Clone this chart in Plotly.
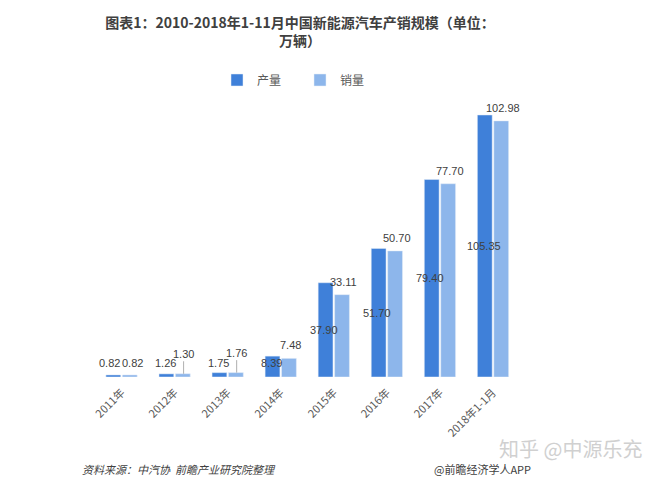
import plotly.graph_objects as go

categories = ["2011年", "2012年", "2013年", "2014年", "2015年", "2016年", "2017年", "2018年1-1月"]
production = [0.82, 1.26, 1.75, 8.39, 37.90, 51.70, 79.40, 105.35]
sales = [0.82, 1.30, 1.76, 7.48, 33.11, 50.70, 77.70, 102.98]
series_names = ["产量", "销量"]

W, H = 658, 482
L, R, T, B = 95, 136, 95, 105
PW, PH = W - L - R, H - T - B

def px(x):
    return (x - L) / PW

def py(y):
    return (H - B - y) / PH

C_PROD = "#3F80D9"
C_SALE = "#8DB6EB"
NUMFONT = "Liberation Sans, Noto Sans CJK SC, sans-serif"
CJK = "Noto Sans CJK SC, sans-serif"

fig = go.Figure()
fig.add_bar(x=categories, y=production, name=series_names[0], marker_color=C_PROD,
            hoverinfo="skip")
fig.add_bar(x=categories, y=sales, name=series_names[1], marker_color=C_SALE,
            hoverinfo="skip")

ann = []
lifted = {1, 2}
# production labels: centred in the bar (minimum height for tiny bars)
for i, (c, v) in enumerate(zip(categories, production)):
    side_by_side = i not in lifted and sales[i] < 1
    ann.append(dict(x=c, y=max(v / 2, 5.5), xref="x", yref="y", text=f"{v:.2f}",
                    showarrow=False, xshift=-12 if side_by_side else -9.5, yanchor="middle",
                    font=dict(size=11, color="#404040", family=NUMFONT)))
# sales labels: above the bar; a couple lifted with a leader line
for i, (c, v) in enumerate(zip(categories, sales)):
    if i in lifted:
        ann.append(dict(x=c, y=v, xref="x", yref="y", text=f"{v:.2f}",
                        showarrow=True, arrowhead=0, arrowwidth=0.8, arrowcolor="#9a9a9a",
                        ax=0, ay=-20, xshift=9, standoff=0,
                        font=dict(size=11, color="#404040", family=NUMFONT)))
    else:
        side_by_side = v < 1
        ann.append(dict(x=c, y=v if not side_by_side else 5.5, xref="x", yref="y",
                        text=f"{v:.2f}", showarrow=False,
                        xshift=11 if side_by_side else 10, yshift=0 if side_by_side else 13,
                        yanchor="middle",
                        font=dict(size=11, color="#404040", family=NUMFONT)))

# footer & watermark
ann.append(dict(x=px(80), y=py(469), xref="paper", yref="paper", xanchor="left", yanchor="middle",
                text="<i>资料来源：中汽协  前瞻产业研究院整理</i>", showarrow=False,
                font=dict(size=11, color="#404040", family=CJK)))
ann.append(dict(x=px(432), y=py(469), xref="paper", yref="paper", xanchor="left", yanchor="middle",
                text="@前瞻经济学人APP", showarrow=False,
                font=dict(size=11, color="#404040", family=CJK)))
ann.append(dict(x=px(570), y=py(448), xref="paper", yref="paper", xanchor="center", yanchor="middle",
                text="知乎 @中源乐充", showarrow=False,
                font=dict(size=20, color="#d0d0d0", family=CJK)))

fig.update_layout(
    width=W, height=H,
    margin=dict(l=L, r=R, t=T, b=B, pad=0, autoexpand=False),
    paper_bgcolor="white", plot_bgcolor="white",
    barmode="group", bargap=0.38, bargroupgap=0.1,
    title=dict(text="<b>图表1：2010-2018年1-11月中国新能源汽车产销规模（单位：<br>万辆）</b>",
               x=300 / W, xanchor="center", xref="container",
               y=1 - 28 / H, yanchor="top", yref="container", automargin=False,
               font=dict(size=14, color="#404040", family=CJK)),
    legend=dict(orientation="h", xref="container", yref="container",
                x=300 / W, xanchor="center", y=1 - 80 / H, yanchor="middle",
                font=dict(size=12, color="#595959", family=CJK),
                itemwidth=30, entrywidth=38, itemclick=False),
    xaxis=dict(showline=False, showgrid=False, zeroline=False, ticks="", automargin=False,
               tickangle=-45, ticklabelstandoff=6,
               tickfont=dict(size=11, color="#595959", family=CJK)),
    yaxis=dict(visible=False, range=[0, PH / 2.487], showgrid=False, zeroline=False,
               automargin=False),
    annotations=ann,
    showlegend=True,
)

fig.write_html("out.html")
